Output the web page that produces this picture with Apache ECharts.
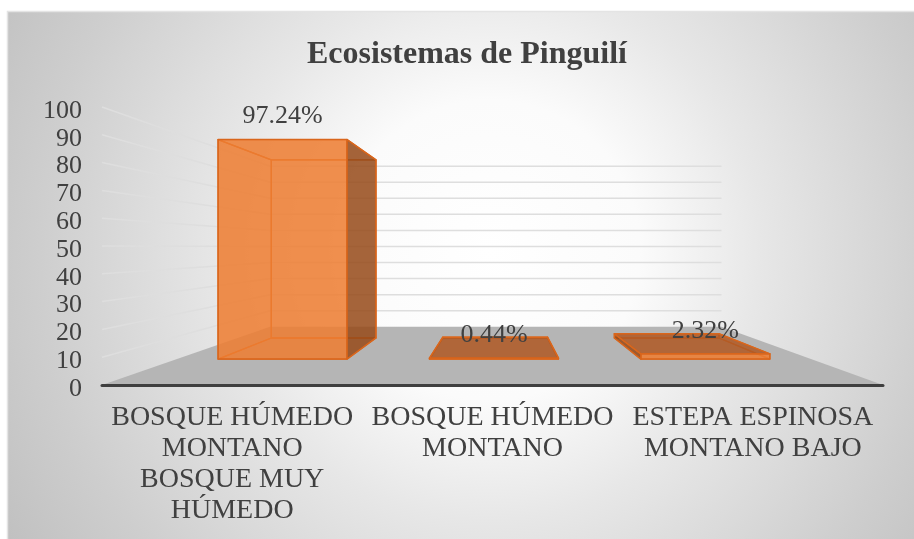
<!DOCTYPE html>
<html>
<head>
<meta charset="utf-8">
<script src="https://cdn.jsdelivr.net/npm/echarts@6/dist/echarts.min.js"></script>
<style>
html,body{margin:0;padding:0;background:#ffffff;}
#chart{width:914px;height:539px;}
</style>
</head>
<body>
<div id="chart"></div>
<script>
// ---- data ----
const chartTitle = 'Ecosistemas de Pinguilí';
const categories = [
  'BOSQUE HÚMEDO\nMONTANO\nBOSQUE MUY\nHÚMEDO',
  'BOSQUE HÚMEDO\nMONTANO',
  'ESTEPA ESPINOSA\nMONTANO BAJO'
];
const values = [97.24, 0.44, 2.32];
const yTicks = [10, 20, 30, 40, 50, 60, 70, 80, 90, 100];

// ---- 3D camera settings (perspective toward a vanishing point) ----
const VP_VALUE = 49.6;      // eye height in axis units
const VP_XFRAC = 0.51;      // eye horizontal position (fraction of plot width)
const F_BACK = 0.578;       // depth of back wall
const F_BAR_FRONT = 0.812;  // depth of bar front faces
const F_BAR_BACK = 0.659;   // depth of bar back faces
const BAR_RATIO = 0.61;

const FONT = "'Liberation Serif','Times New Roman',serif";
const TXT = '#404040';

function vp(params, api) {
  const cs = params.coordSys;
  return [cs.x + cs.width * VP_XFRAC, api.coord([0, VP_VALUE])[1]];
}
function proj(V, x, y, f) {
  return [V[0] + (x - V[0]) * f, V[1] + (y - V[1]) * f];
}
function area(pts) {
  let s = 0;
  for (let i = 0; i < pts.length; i++) {
    const a = pts[i], b = pts[(i + 1) % pts.length];
    s += a[0] * b[1] - b[0] * a[1];
  }
  return s;
}

const chart = echarts.init(document.getElementById('chart'), null, {renderer: 'canvas'});

const option = {
  animation: false,
  backgroundColor: '#ffffff',
  title: {
    text: chartTitle,
    left: 462,
    top: 34,
    textAlign: 'center',
    textStyle: {fontFamily: FONT, fontWeight: 'bold', fontSize: 32, color: TXT}
  },
  graphic: [{
    type: 'rect',
    z: -100,
    silent: true,
    shape: {x: 7.5, y: 11.5, width: 910, height: 530},
    style: {
      fill: {
        type: 'radial', x: 490, y: 250, r: 600, global: true,
        colorStops: [
          {offset: 0, color: '#ffffff'},
          {offset: 0.25, color: '#fbfbfb'},
          {offset: 0.45, color: '#e7e7e7'},
          {offset: 0.75, color: '#cecece'},
          {offset: 1, color: '#bcbcbc'}
        ]
      },
      stroke: '#e4e4e4',
      lineWidth: 1.5
    }
  }],
  grid: {left: 102, right: 31, top: 107, bottom: 154, containLabel: false},
  xAxis: {
    type: 'category',
    data: categories,
    axisLine: {show: false},
    axisTick: {show: false},
    splitLine: {show: false},
    axisLabel: {
      interval: 0, margin: 17, fontFamily: FONT, fontSize: 28, color: TXT,
      lineHeight: 31, align: 'center'
    }
  },
  yAxis: {
    type: 'value',
    min: 0, max: 100, interval: 10,
    axisLine: {show: false},
    axisTick: {show: false},
    splitLine: {show: false},
    axisLabel: {
      margin: 20,
      formatter: '{a|{value}}',
      rich: {a: {fontFamily: FONT, fontSize: 26, color: TXT, padding: [8, 0, 0, 0]}}
    }
  },
  series: [
    {
      // wall gridlines
      type: 'custom',
      name: 'grid',
      z: 1,
      clip: false,
      silent: true,
      data: yTicks.map(v => [0, v]),
      renderItem: function (params, api) {
        const V = vp(params, api);
        const cs = params.coordSys;
        const y = api.coord([0, api.value(1)])[1];
        const p0 = [cs.x, y];
        const p1 = proj(V, cs.x, y, F_BACK);
        const p2 = proj(V, cs.x + cs.width, y, F_BACK);
        return {
          type: 'polyline',
          shape: {points: [p0, p1, p2]},
          style: {stroke: '#dedede', lineWidth: 1.5, fill: null}
        };
      }
    },
    {
      // floor
      type: 'custom',
      name: 'floor',
      z: 2,
      clip: false,
      silent: true,
      data: [[0, 0]],
      renderItem: function (params, api) {
        const V = vp(params, api);
        const cs = params.coordSys;
        const y0 = api.coord([0, 0])[1];
        const xl = cs.x, xr = cs.x + cs.width;
        const pts = [[xl, y0], [xr, y0], proj(V, xr, y0, F_BACK), proj(V, xl, y0, F_BACK)];
        return {
          type: 'group',
          children: [
            {type: 'polygon', shape: {points: pts}, style: {fill: '#b5b5b5', stroke: null}},
            {type: 'line', shape: {x1: xl, y1: y0 + 0.5, x2: xr, y2: y0 + 0.5},
              style: {stroke: '#3f3f3f', lineWidth: 3, lineCap: 'round'}}
          ]
        };
      }
    },
    {
      // 3D bars
      type: 'custom',
      name: 'Ecosistemas',
      z: 3,
      clip: false,
      data: values.map((v, i) => [i, v]),
      encode: {x: 0, y: 1},
      renderItem: function (params, api) {
        const V = vp(params, api);
        const idx = api.value(0), v = api.value(1);
        const c = api.coord([idx, 0]);
        const t = api.coord([idx, v]);
        const bw = api.size([1, 0])[0] * BAR_RATIO;
        const x0 = c[0] - bw / 2, x1 = c[0] + bw / 2, yb = c[1], yt = t[1];
        const ff = F_BAR_FRONT, fb = F_BAR_BACK;
        const A = proj(V, x0, yb, ff), B = proj(V, x1, yb, ff), C = proj(V, x1, yt, ff), D = proj(V, x0, yt, ff);
        const E = proj(V, x0, yb, fb), F = proj(V, x1, yb, fb), G = proj(V, x1, yt, fb), H = proj(V, x0, yt, fb);
        const faces = [
          {pts: [A, B, C, D], fill: 'rgba(237,125,49,0.86)'},
          {pts: [F, E, H, G], fill: 'rgba(237,125,49,0.86)'},
          {pts: [E, A, D, H], fill: 'rgba(150,74,26,0.86)'},
          {pts: [B, F, G, C], fill: 'rgba(150,74,26,0.86)'},
          {pts: [E, F, B, A], fill: 'rgba(175,88,36,0.86)'},
          {pts: [D, C, G, H], fill: 'rgba(175,88,36,0.86)'}
        ];
        const hidden = [], shown = [];
        faces.forEach(fc => {
          if (area(fc.pts) < 0) {
            shown.push({type: 'polygon', shape: {points: fc.pts},
              style: {fill: fc.fill, stroke: '#d9661c', lineWidth: 1.5, lineJoin: 'round'}});
          } else {
            hidden.push({type: 'polygon', shape: {points: fc.pts},
              style: {fill: null, stroke: '#dc6a20', lineWidth: 1.3, lineJoin: 'round'}});
          }
        });
        const label = {
          type: 'text',
          style: {
            text: v.toFixed(2) + '%',
            x: (D[0] + C[0]) / 2,
            y: D[1] - 10,
            align: 'center',
            verticalAlign: 'bottom',
            fontFamily: FONT,
            fontSize: 26,
            fill: TXT
          },
          z2: 10
        };
        return {type: 'group', children: hidden.concat(shown).concat([label])};
      }
    }
  ]
};
chart.setOption(option);
</script>
</body>
</html>
